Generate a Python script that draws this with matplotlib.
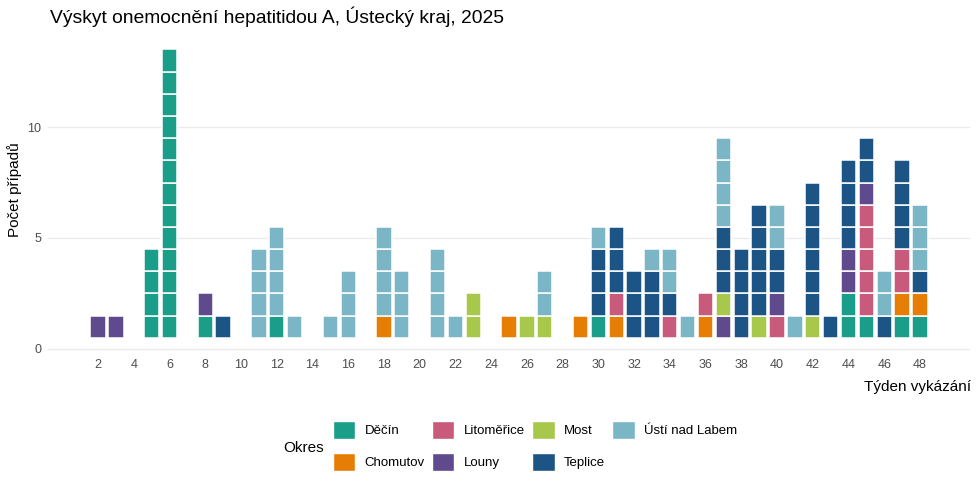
import matplotlib
matplotlib.use('Agg')
import matplotlib.pyplot as plt
from matplotlib.patches import Patch

plt.rcParams['font.family'] = ['Liberation Sans', 'DejaVu Sans']

# week of report and number of cases per district (stack order bottom -> top)
weeks = [2, 3, 5, 6, 8, 9, 11, 12, 13, 15, 16, 18, 19, 21, 22, 23, 25, 26, 27,
         29, 30, 31, 32, 33, 34, 35, 36, 37, 38, 39, 40, 41, 42, 43, 44, 45, 46, 47, 48]
decin =      [0, 0, 4, 13, 1, 0, 0, 1, 0, 0, 0, 0, 0, 0, 0, 0, 0, 0, 0,
              0, 1, 0, 0, 0, 0, 0, 0, 0, 0, 0, 0, 0, 0, 0, 2, 1, 0, 1, 1]
chomutov =   [0, 0, 0, 0, 0, 0, 0, 0, 0, 0, 0, 1, 0, 0, 0, 0, 1, 0, 0,
              1, 0, 1, 0, 0, 0, 0, 1, 0, 0, 0, 0, 0, 0, 0, 0, 0, 0, 1, 1]
litomerice = [0, 0, 0, 0, 0, 0, 0, 0, 0, 0, 0, 0, 0, 0, 0, 0, 0, 0, 0,
              0, 0, 1, 0, 0, 1, 0, 1, 0, 0, 0, 1, 0, 0, 0, 0, 5, 0, 2, 0]
louny =      [1, 1, 0, 0, 1, 0, 0, 0, 0, 0, 0, 0, 0, 0, 0, 0, 0, 0, 0,
              0, 0, 0, 0, 0, 0, 0, 0, 1, 0, 0, 1, 0, 0, 0, 2, 1, 0, 0, 0]
most =       [0, 0, 0, 0, 0, 0, 0, 0, 0, 0, 0, 0, 0, 0, 0, 2, 0, 1, 1,
              0, 0, 0, 0, 0, 0, 0, 0, 1, 0, 1, 0, 0, 1, 0, 0, 0, 0, 0, 0]
teplice =    [0, 0, 0, 0, 0, 1, 0, 0, 0, 0, 0, 0, 0, 0, 0, 0, 0, 0, 0,
              0, 3, 3, 3, 3, 1, 0, 0, 3, 4, 5, 2, 0, 6, 1, 4, 2, 1, 4, 1]
usti =       [0, 0, 0, 0, 0, 0, 4, 4, 1, 1, 3, 4, 3, 4, 1, 0, 0, 0, 2,
              0, 1, 0, 0, 1, 2, 1, 0, 4, 0, 0, 2, 1, 0, 0, 0, 0, 2, 0, 3]

districts = ['Děčín', 'Chomutov', 'Litoměřice', 'Louny', 'Most', 'Teplice', 'Ústí nad Labem']
counts = [decin, chomutov, litomerice, louny, most, teplice, usti]
colors = ['#1a9e8a', '#e67e05', '#c85a7b', '#5e4a8d', '#a8c84b', '#1c5585', '#7ab6c6']

fig = plt.figure(figsize=(9.79, 4.90), dpi=100)
ax = fig.add_axes([48 / 979, 1 - 352.3 / 490, (970 - 48) / 979, (352.3 - 34.9) / 490])

# one tile per case
level = [0] * len(weeks)
for name, vals, col in zip(districts, counts, colors):
    xs, ys = [], []
    for i, w in enumerate(weeks):
        for k in range(vals[i]):
            level[i] += 1
            xs.append(w)
            ys.append(level[i] - 0.5)
    ax.bar(xs, 1, bottom=ys, width=0.86, color=col, edgecolor='white', linewidth=1.1)

ax.set_xlim(-0.8, 50.8)
ax.set_ylim(-0.15, 14.15)
ax.set_xticks(range(2, 49, 2))
ax.set_yticks([0, 5, 10])
ax.tick_params(length=0, labelsize=9, labelcolor='#4d4d4d', pad=5)
ax.grid(axis='y', color='#ebebeb', linewidth=1)
ax.set_axisbelow(True)
for s in ax.spines.values():
    s.set_visible(False)

fig.text(50 / 979, 1 - 17 / 490, 'Výskyt onemocnění hepatitidou A, Ústecký kraj, 2025',
         fontsize=13.9, va='center', ha='left')
fig.text(15 / 979, 1 - 190 / 490, 'Počet případů', fontsize=11, rotation=90,
         va='center', ha='center')
fig.text(971 / 979, 1 - 387 / 490, 'Týden vykázání', fontsize=11, va='center', ha='right')

handles = [Patch(facecolor=c, edgecolor='white') for c in colors]
fig.legend(handles, districts, ncol=4, loc='upper left', frameon=False,
           bbox_to_anchor=(333 / 979, 1 - 421 / 490), borderaxespad=0, borderpad=0,
           fontsize=9.5, handlelength=1.7, handleheight=1.7, handletextpad=0.7,
           columnspacing=0.55, labelspacing=1.08)
fig.text(304 / 979, 1 - 448 / 490, 'Okres', fontsize=11, va='center', ha='center')

fig.savefig('out.png', dpi=100)
